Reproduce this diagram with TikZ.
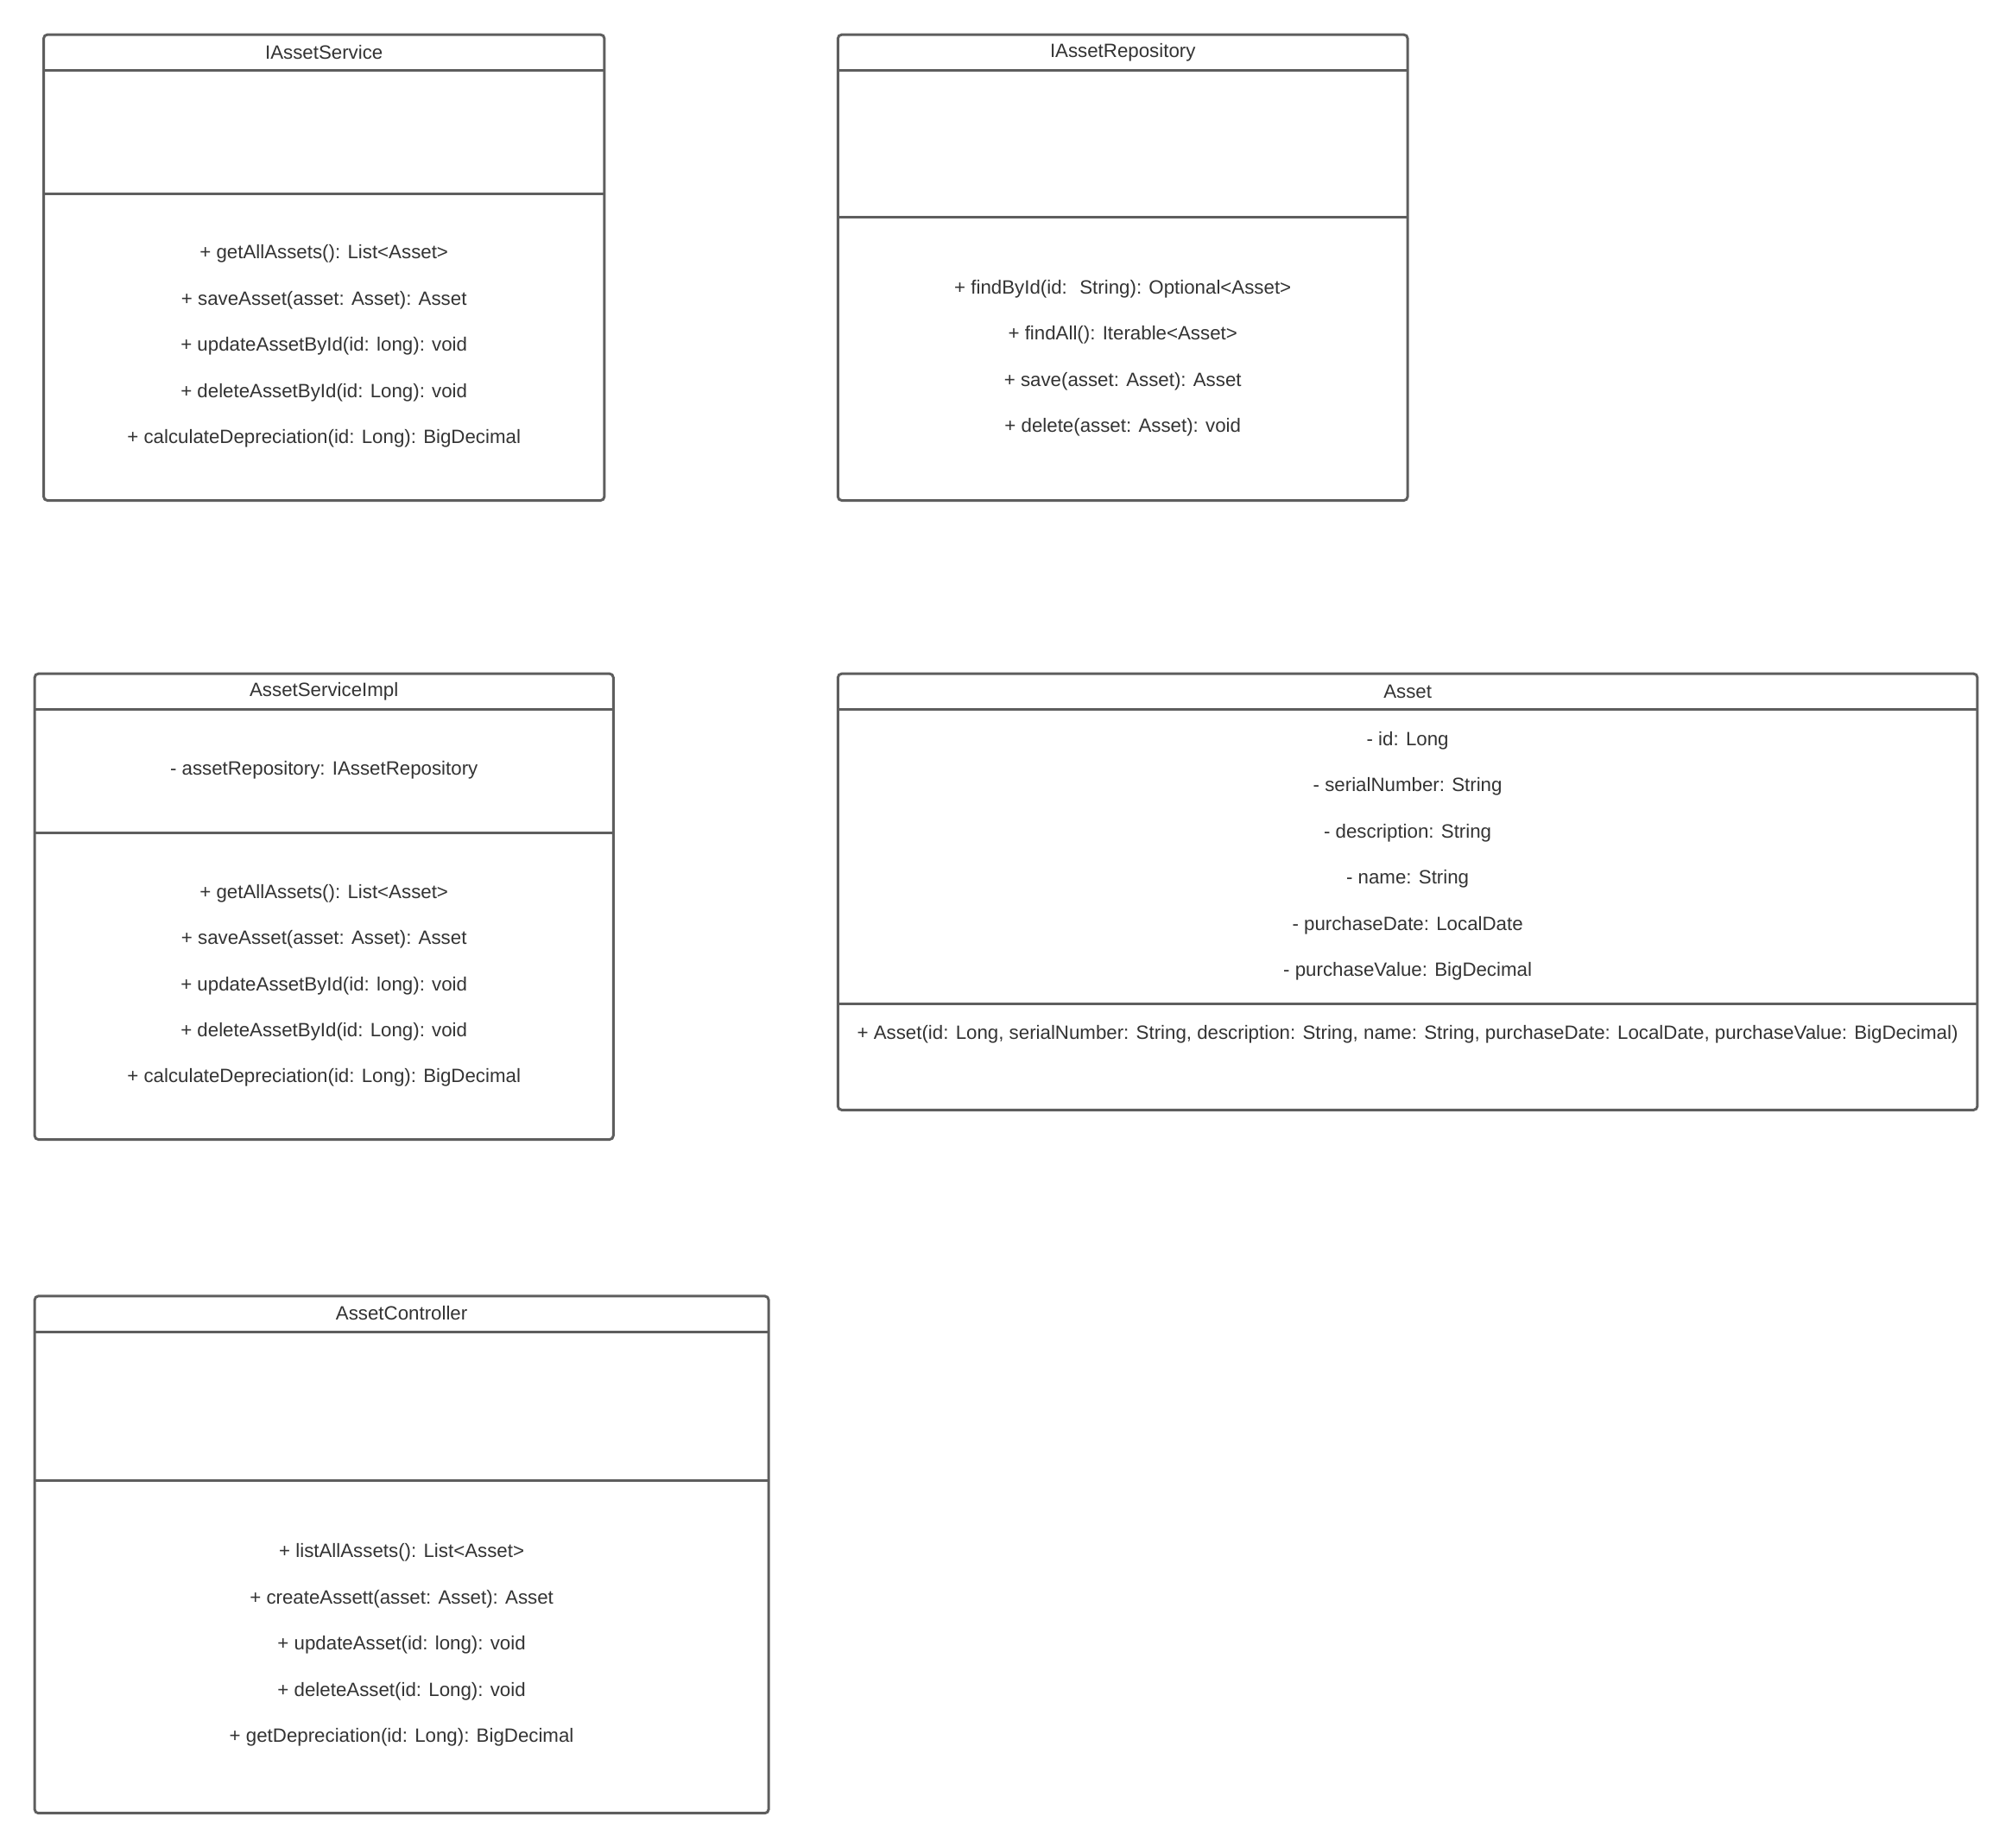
\documentclass[tikz,border=0pt]{standalone}
\usepackage{fontspec}
\setmainfont{Liberation Sans}
\usepackage{tikz}
\usetikzlibrary{positioning}

\definecolor{linegray}{HTML}{5E5E5E}
\definecolor{txtgray}{HTML}{333333}

\tikzset{
  cls/.style={draw=linegray,line width=1pt,rounded corners=1.5pt},
  sep/.style={draw=linegray,line width=1pt},
  lbl/.style={text=txtgray,inner sep=0pt,font=\fontsize{7.5}{9}\selectfont}
}

\begin{document}
\begin{tikzpicture}[x=0.5pt,y=-0.5pt]
  \useasboundingbox[fill=white] (0,0) rectangle (1568,1440);

  % IAssetService
  \draw[cls] (34,27) rectangle (471,390);
  \draw[sep] (34,55) -- (471,55);
  \draw[sep] (34,151) -- (471,151);
  \node[lbl] (svc) at (252.5,41) {IAssetService};
  \foreach \t [count=\i] in {+ getAllAssets(): List<Asset>,
      + saveAsset(asset: Asset): Asset,
      + updateAssetById(id: long): void,
      + deleteAssetById(id: Long): void,
      + calculateDepreciation(id: Long): BigDecimal}
    \node[lbl] (svc-m\i) at (252.5,{162+36*\i}) {\t};

  % IAssetRepository
  \draw[cls] (653,27) rectangle (1097,390);
  \draw[sep] (653,55) -- (1097,55);
  \draw[sep] (653,169) -- (1097,169);
  \node[lbl] (repo) at (875,41) {IAssetRepository};
  \foreach \t [count=\i] in {+ findById(id:~ String): Optional<Asset>,
      + findAll(): Iterable<Asset>,
      + save(asset: Asset): Asset,
      + delete(asset: Asset): void}
    \node[lbl] (repo-m\i) at (875,{189+36*\i}) {\t};

  % AssetServiceImpl
  \draw[cls] (27,525) rectangle (478,888);
  \draw[sep] (27,553) -- (478,553);
  \draw[sep] (27,649) -- (478,649);
  \node[lbl] (impl) at (252.5,539) {AssetServiceImpl};
  \node[lbl] (impl-a1) at (252.5,600) {- assetRepository: IAssetRepository};
  \foreach \t [count=\i] in {+ getAllAssets(): List<Asset>,
      + saveAsset(asset: Asset): Asset,
      + updateAssetById(id: long): void,
      + deleteAssetById(id: Long): void,
      + calculateDepreciation(id: Long): BigDecimal}
    \node[lbl] (impl-m\i) at (252.5,{660+36*\i}) {\t};

  % Asset
  \draw[cls] (653,525) rectangle (1541,865);
  \draw[sep] (653,553) -- (1541,553);
  \draw[sep] (653,782) -- (1541,782);
  \node[lbl] (asset) at (1097,539) {Asset};
  \foreach \t [count=\i] in {- id: Long,
      - serialNumber: String,
      - description: String,
      - name: String,
      - purchaseDate: LocalDate,
      - purchaseValue: BigDecimal}
    \node[lbl] (asset-a\i) at (1097,{541+36*\i}) {\t};
  \node[lbl] (asset-m1) at (1097,806) {+ Asset(id: Long, serialNumber: String, description: String, name: String, purchaseDate: LocalDate, purchaseValue: BigDecimal)};

  % AssetController
  \draw[cls] (27,1010) rectangle (599,1413);
  \draw[sep] (27,1038) -- (599,1038);
  \draw[sep] (27,1154) -- (599,1154);
  \node[lbl] (ctrl) at (313,1023) {AssetController};
  \foreach \t [count=\i] in {+ listAllAssets(): List<Asset>,
      + createAssett(asset: Asset): Asset,
      + updateAsset(id: long): void,
      + deleteAsset(id: Long): void,
      + getDepreciation(id: Long): BigDecimal}
    \node[lbl] (ctrl-m\i) at (313,{1174+36*\i}) {\t};
\end{tikzpicture}
\end{document}
